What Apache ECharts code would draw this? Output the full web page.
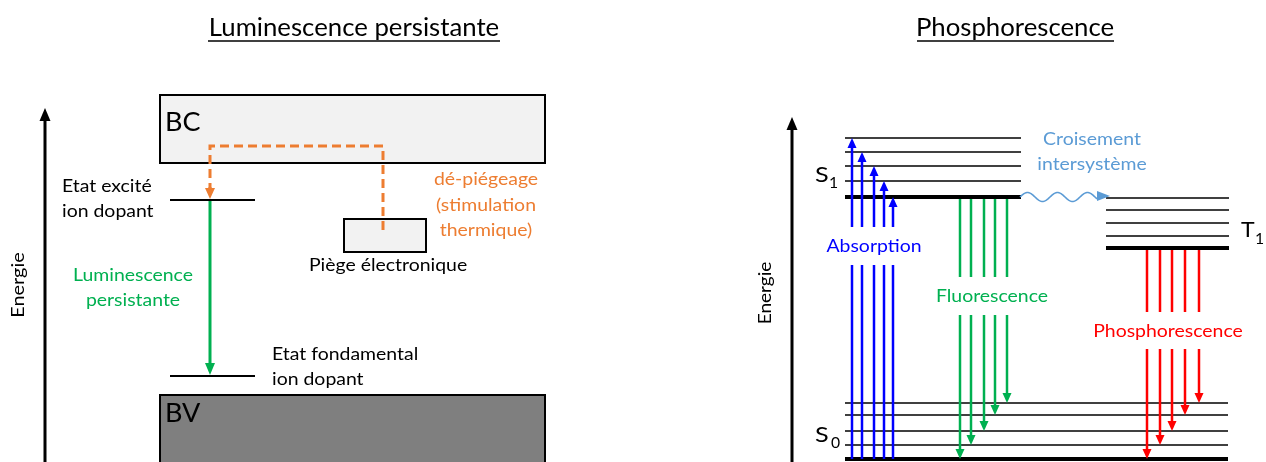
<!DOCTYPE html>
<html>
<head>
<meta charset="utf-8">
<script src="https://cdn.jsdelivr.net/npm/echarts@6/dist/echarts.min.js"></script>
<style>
  html,body{margin:0;padding:0;background:#fff}
  #main{width:1266px;height:462px}
</style>
</head>
<body>
<div id="main"></div>
<script>
// repère : abscisse et ordonnée en px (axe y inversé)
// --- Luminescence persistante ---
const bandX = [160, 545]
const bcY = [95, 163]
const bvY = [395, 480]
const trapX = [344, 426]
const trapY = [219, 252]
const dopantX = [170, 255]
const dopantLevels = [200, 376]
const detrapPath = [[383, 230], [383, 146], [210, 146], [210, 189]]
const lumiX = 210

// --- Phosphorescence ---
const s1X = [845, 1021]
const s1Levels = [138, 152, 166, 181, 197]
const s0X = [845, 1228]
const s0Levels = [403, 415, 431, 445, 459]
const t1X = [1106, 1229]
const t1Levels = [198, 210, 223, 236, 248]
const absorptionX = [852, 862, 874, 884, 893]
const absorptionGap = [265, 227]
const fluoX = [960, 971, 984, 995, 1007]
const fluoGap = [277, 315]
const phosphoX = [1147, 1160, 1172, 1185, 1199]
const phosphoGap = [312, 349]
const iscPath = [1020, 1097, 1110, 197]

const FONT = 'Lato'
const chart = echarts.init(document.getElementById('main'))

// tête de flèche triangulaire en b, orientée de a vers b
const head = (a, b, color, hl, hw) => {
  const dx = b[0] - a[0], dy = b[1] - a[1]
  const len = Math.hypot(dx, dy) || 1
  const ux = dx / len, uy = dy / len
  const base = [b[0] - ux * hl, b[1] - uy * hl]
  return {
    base,
    el: {
      type: 'polygon',
      shape: {points: [b, [base[0] - uy * hw, base[1] + ux * hw], [base[0] + uy * hw, base[1] - ux * hw]]},
      style: {fill: color}
    }
  }
}

// flèche simple : [x0, y0, x1, y1]
const arrowSeries = (data, color, width, hl, hw) => ({
  type: 'custom',
  silent: true,
  renderItem: (params, api) => {
    const a = api.coord([api.value(0), api.value(1)])
    const b = api.coord([api.value(2), api.value(3)])
    const h = head(a, b, color, hl, hw)
    return {
      type: 'group',
      children: [
        {type: 'line', shape: {x1: a[0], y1: a[1], x2: h.base[0], y2: h.base[1]}, style: {stroke: color, lineWidth: width}},
        h.el
      ]
    }
  },
  data
})

// flèche verticale coupée par le libellé : [x, départ, coupure1, coupure2, arrivée]
const splitSeries = (xs, from, to, gap, color) => ({
  type: 'custom',
  silent: true,
  renderItem: (params, api) => {
    const x = api.value(0)
    const p0 = api.coord([x, api.value(1)])
    const p1 = api.coord([x, api.value(2)])
    const p2 = api.coord([x, api.value(3)])
    const p3 = api.coord([x, api.value(4)])
    const h = head(p2, p3, color, 10, 4.5)
    return {
      type: 'group',
      children: [
        {type: 'line', shape: {x1: p0[0], y1: p0[1], x2: p1[0], y2: p1[1]}, style: {stroke: color, lineWidth: 2.5}},
        {type: 'line', shape: {x1: p2[0], y1: p2[1], x2: h.base[0], y2: h.base[1]}, style: {stroke: color, lineWidth: 2.5}},
        h.el
      ]
    }
  },
  dimensions: ['x', 'y0', 'g0', 'g1', 'y1'],
  encode: {x: 0, y: 1},
  data: xs.map((x, i) => [x, from[i], gap[0], gap[1], to[i]])
})

const levelLines = (xr, levels, thickIdx, w) => ({
  type: 'lines',
  coordinateSystem: 'cartesian2d',
  silent: true,
  data: levels.map((y, i) => ({
    coords: [[xr[0], y], [xr[1], y]],
    lineStyle: {width: i === thickIdx ? 4 : w}
  })),
  lineStyle: {color: '#000', opacity: 1}
})

const boxSeries = (data, fill) => ({
  type: 'custom',
  silent: true,
  renderItem: (params, api) => {
    const p0 = api.coord([api.value(0), api.value(1)])
    const p1 = api.coord([api.value(2), api.value(3)])
    return {
      type: 'rect',
      shape: {x: p0[0], y: p0[1], width: p1[0] - p0[0], height: p1[1] - p0[1]},
      style: {fill, stroke: '#000', lineWidth: 2}
    }
  },
  data
})

// flèche ondulée du croisement intersystème
const waveSeries = {
  type: 'custom',
  silent: true,
  renderItem: (params, api) => {
    const a = api.coord([api.value(0), api.value(3)])
    const b = api.coord([api.value(1), api.value(3)])
    const tip = api.coord([api.value(2), api.value(3)])
    const pts = []
    for (let x = a[0]; x <= b[0]; x += 1) {
      pts.push([x, a[1] - 4.5 * Math.sin(2 * Math.PI * (x - a[0]) / 30)])
    }
    return {
      type: 'group',
      children: [
        {type: 'polyline', shape: {points: pts}, style: {stroke: '#5b9bd5', lineWidth: 1.6, fill: null}},
        {type: 'polygon', shape: {points: [[tip[0], tip[1] - 1], [b[0], tip[1] - 6], [b[0], tip[1] + 4]]}, style: {fill: '#5b9bd5'}}
      ]
    }
  },
  data: [iscPath]
}

const txt = (text, x, y, size, color = '#000', align = 'center', sx = 1.11) => ({
  type: 'text', x, y, scaleX: sx, silent: true, z: 100,
  style: {text, font: size + 'px ' + FONT, fill: color, align, verticalAlign: 'middle'}
})

const option = {
  animation: false,
  grid: {left: 0, right: 0, top: 0, bottom: 0},
  xAxis: {type: 'value', min: 0, max: 1266, show: false},
  yAxis: {type: 'value', min: 0, max: 462, inverse: true, show: false},
  series: [
    // axes d'énergie
    arrowSeries([[45, 470, 45, 108], [792, 470, 792, 117]], '#000', 3, 13, 5.5),
    // bandes et piège
    boxSeries([[bandX[0], bcY[0], bandX[1], bcY[1]], [trapX[0], trapY[0], trapX[1], trapY[1]]], '#f2f2f2'),
    boxSeries([[bandX[0], bvY[0], bandX[1], bvY[1]]], '#7f7f7f'),
    // niveaux de l'ion dopant
    levelLines(dopantX, dopantLevels, -1, 1.8),
    // dé-piégeage
    {
      type: 'lines',
      coordinateSystem: 'cartesian2d',
      polyline: true,
      silent: true,
      data: [{coords: detrapPath}],
      lineStyle: {color: '#ed7d31', width: 3, type: [9, 5], opacity: 1}
    },
    arrowSeries([[210, 187, 210, 199]], '#ed7d31', 3, 11, 5),
    // luminescence persistante
    arrowSeries([[lumiX, dopantLevels[0] + 1, lumiX, dopantLevels[1] - 1]], '#00b050', 3, 12, 5),
    // niveaux S1, S0, T1
    levelLines(s1X, s1Levels, 4, 1.6),
    levelLines(s0X, s0Levels, 4, 1.6),
    levelLines(t1X, t1Levels, 4, 1.6),
    // absorption (S0 -> S1)
    splitSeries(absorptionX, absorptionX.map(() => s0Levels[4]), s1Levels, absorptionGap, '#0000ff'),
    // fluorescence (S1 -> S0)
    splitSeries(fluoX, fluoX.map(() => s1Levels[4] + 2), s0Levels.slice().reverse(), fluoGap, '#00b050'),
    // phosphorescence (T1 -> S0)
    splitSeries(phosphoX, phosphoX.map(() => t1Levels[4] + 2), s0Levels.slice().reverse(), phosphoGap, '#ff0000'),
    // croisement intersystème
    waveSeries
  ],
  graphic: [
    txt('Luminescence persistante', 354, 27.5, 25.5, '#000', 'center', 1.01),
    {type: 'line', silent: true, z: 100, shape: {x1: 208, y1: 41, x2: 500, y2: 41}, style: {stroke: '#000', lineWidth: 1.6}},
    txt('Phosphorescence', 1015, 27.5, 25.5, '#000', 'center', 1.01),
    {type: 'line', silent: true, z: 100, shape: {x1: 917, y1: 41, x2: 1114, y2: 41}, style: {stroke: '#000', lineWidth: 1.6}},
    Object.assign(txt('Energie', 19, 285, 17, '#000', 'center', 1.17), {rotation: Math.PI / 2}),
    Object.assign(txt('Energie', 766, 293, 17, '#000', 'center', 1.12), {rotation: Math.PI / 2}),
    txt('BC', 165, 122.5, 26.5, '#000', 'left', 1.02),
    txt('BV', 165, 413.5, 26.5, '#000', 'left', 1.02),
    txt('Etat excité', 62, 186.5, 17.5, '#000', 'left'),
    txt('ion dopant', 62, 211.5, 17.5, '#000', 'left'),
    txt('Luminescence', 133, 275, 17.5, '#00b050'),
    txt('persistante', 133, 300, 17.5, '#00b050'),
    txt('Etat fondamental', 272, 354.5, 17.5, '#000', 'left'),
    txt('ion dopant', 272, 379.5, 17.5, '#000', 'left'),
    txt('Piège électronique', 309, 265.5, 17.5, '#000', 'left'),
    txt('dé-piégeage', 486, 179.5, 17.5, '#ed7d31'),
    txt('(stimulation', 486, 205.5, 17.5, '#ed7d31'),
    txt('thermique)', 486, 230.5, 17.5, '#ed7d31'),
    txt('S', 815, 175.5, 21, '#000', 'left', 1.2),
    txt('1', 829, 183.5, 15, '#000', 'left', 1.05),
    txt('S', 815, 435.5, 21, '#000', 'left', 1.2),
    txt('0', 831, 443.5, 15, '#000', 'left', 1.05),
    txt('T', 1241, 230.5, 21, '#000', 'left', 1.1),
    txt('1', 1255, 239.5, 15, '#000', 'left', 1.05),
    txt('Absorption', 874, 246.5, 17.5, '#0000ff'),
    txt('Fluorescence', 992, 296.5, 17.5, '#00b050'),
    txt('Phosphorescence', 1168, 331.5, 17.5, '#ff0000'),
    txt('Croisement', 1092, 139.5, 17.5, '#5b9bd5'),
    txt('intersystème', 1092, 164.5, 17.5, '#5b9bd5')
  ]
}
chart.setOption(option)
</script>
</body>
</html>
